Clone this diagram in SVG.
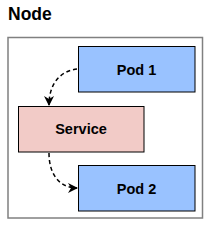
<svg xmlns="http://www.w3.org/2000/svg" width="211" height="227" viewBox="0 0 211 227">
<style>
.t{font-family:"Liberation Sans",Arial,sans-serif;font-weight:bold;fill:#000}
.box{stroke:#000;stroke-width:1}
.pod{fill:#99c2ff}
.conn{fill:none;stroke:#000;stroke-width:1.5;stroke-dasharray:4 3}
</style>
<defs>
<marker id="ah" markerWidth="12" markerHeight="12" refX="9" refY="5" orient="auto" markerUnits="userSpaceOnUse">
<path d="M0,0 L10,5 L0,10 L3,5 Z" fill="#000"/>
</marker>
</defs>
<g id="node">
<text class="t" x="8" y="19.5" font-size="17.5">Node</text>
<rect x="8" y="37.5" width="194.5" height="180.5" fill="#fff" stroke="#808080" stroke-width="1.5"/>
</g>
<g id="pod1">
<rect class="box pod" x="78.5" y="46.5" width="116.5" height="45.5"/>
<text class="t" x="136.5" y="74.5" font-size="14.5" text-anchor="middle">Pod 1</text>
</g>
<g id="service">
<rect class="box" x="18.5" y="106.5" width="125.5" height="45.5" fill="#f2cbc7"/>
<text class="t" x="81" y="134" font-size="14.5" text-anchor="middle">Service</text>
</g>
<g id="pod2">
<rect class="box pod" x="78.5" y="165.5" width="116.5" height="45.5"/>
<text class="t" x="136.5" y="193.5" font-size="14.5" text-anchor="middle">Pod 2</text>
</g>
<g id="connectors">
<path class="conn" d="M77,69 C60,71 49,84 49,105" marker-end="url(#ah)"/>
<path class="conn" d="M49,153 C49,175 60,188 77,188" marker-end="url(#ah)"/>
</g>
</svg>
